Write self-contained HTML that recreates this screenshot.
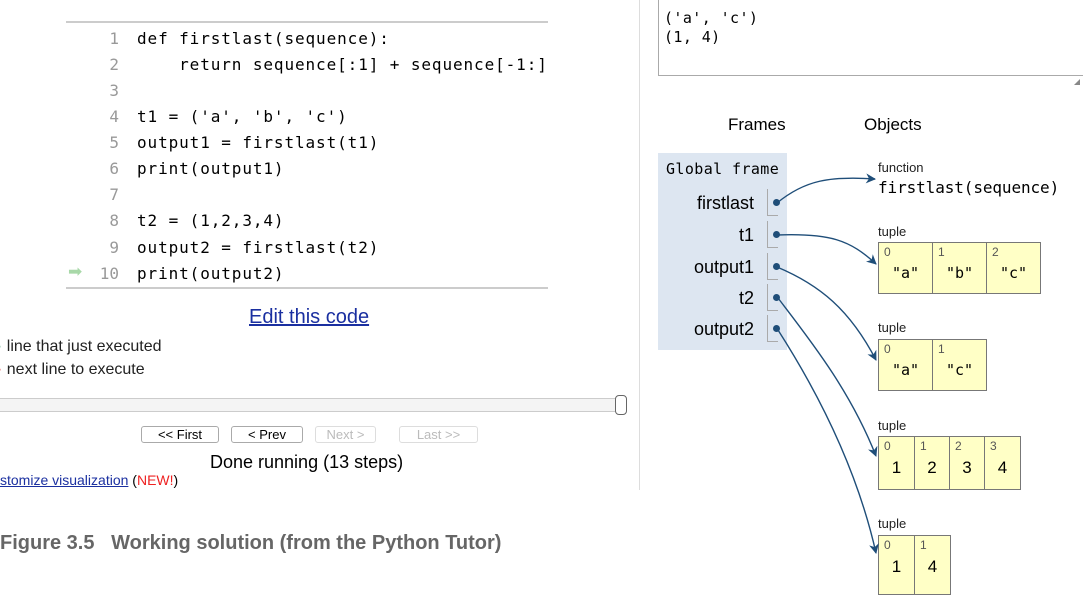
<!DOCTYPE html>
<html><head><meta charset="utf-8"><style>
*{margin:0;padding:0;box-sizing:border-box}
body{width:1083px;height:587px;background:#fff;position:relative;overflow:hidden;font-family:"Liberation Sans",sans-serif;color:#000}
.a{position:absolute;white-space:pre}
.m{font-family:"DejaVu Sans Mono","Liberation Mono",monospace}
.ln{position:absolute;width:40px;text-align:right;left:79px;color:#999;font-size:16px;font-family:"DejaVu Sans Mono",monospace}
.cd{position:absolute;left:137px;font-size:16px;letter-spacing:0.9px;font-family:"DejaVu Sans Mono",monospace;white-space:pre}
.btn{position:absolute;top:426px;height:17px;border:1px solid #aaa;border-radius:3px;font-size:13px;text-align:center;line-height:15px;background:#fff}
.var{position:absolute;right:329px;font-size:18px;text-align:right}
.br{position:absolute;left:767px;width:11px;height:27px;border-left:1px solid #aaa;border-bottom:1px solid #aaa}
.dot{position:absolute;width:7px;height:7px;border-radius:50%;background:#1f4e79;left:773px}
.tl{position:absolute;left:878px;font-size:13px;color:#222}
.tb{position:absolute;left:878px;background:#ffffc6;border:1px solid #777;display:flex}
.c{border-right:1px solid #777;position:relative}
.c:last-child{border-right:none}
.c i{position:absolute;left:5px;top:2px;font-style:normal;font-size:12px;color:#555}
.c b{position:absolute;left:0;right:0;text-align:center;font-weight:normal}
</style></head><body>
<div class="a" style="left:66px;top:21px;width:482px;height:2px;background:#ccc"></div>
<div class="a" style="left:66px;top:287px;width:482px;height:2px;background:#ccc"></div>
<div class="ln" style="top:29px">1</div><div class="cd" style="top:29px">def firstlast(sequence):</div>
<div class="ln" style="top:55px">2</div><div class="cd" style="top:55px">    return sequence[:1] + sequence[-1:]</div>
<div class="ln" style="top:81px">3</div>
<div class="ln" style="top:107px">4</div><div class="cd" style="top:107px">t1 = ('a', 'b', 'c')</div>
<div class="ln" style="top:133px">5</div><div class="cd" style="top:133px">output1 = firstlast(t1)</div>
<div class="ln" style="top:159px">6</div><div class="cd" style="top:159px">print(output1)</div>
<div class="ln" style="top:185px">7</div>
<div class="ln" style="top:211px">8</div><div class="cd" style="top:211px">t2 = (1,2,3,4)</div>
<div class="ln" style="top:238px">9</div><div class="cd" style="top:238px">output2 = firstlast(t2)</div>
<div class="ln" style="top:264px">10</div><div class="cd" style="top:264px">print(output2)</div>
<div class="a" style="left:68px;top:262px;color:#a8d8a8;font-size:17px">➡</div>

<div class="a" style="left:249px;top:306px;font-size:20px;color:#1a2fa0;text-decoration:underline">Edit this code</div>
<div class="a" style="left:-3px;top:338px;font-size:16px;color:#222"><span style="color:#7b9">·</span> line that just executed</div>
<div class="a" style="left:-3px;top:361px;font-size:16px;color:#222"><span style="color:#d44">·</span> next line to execute</div>
<div class="a" style="left:0;top:398px;width:622px;height:14px;border:1px solid #ccc;border-left:none;background:#f4f4f4"></div>
<div class="a" style="left:615px;top:395px;width:12px;height:20px;border:1px solid #666;border-radius:4px;background:#fff"></div>
<div class="btn" style="left:141px;width:78px">&lt;&lt; First</div>
<div class="btn" style="left:231px;width:72px">&lt; Prev</div>
<div class="btn" style="left:315px;width:61px;color:#bbb;border-color:#ddd">Next &gt;</div>
<div class="btn" style="left:399px;width:79px;color:#bbb;border-color:#ddd">Last &gt;&gt;</div>
<div class="a" style="left:210px;top:452px;font-size:18px">Done running (13 steps)</div>
<div class="a" style="left:0;top:472px;font-size:14px"><span style="color:#1a2fa0;text-decoration:underline">stomize visualization</span> (<span style="color:#e22">NEW!</span>)</div>
<div class="a" style="left:0;top:532px;font-size:20px;font-weight:bold;color:#666">Figure 3.5&nbsp;&nbsp;&nbsp;Working solution (from the Python Tutor)</div>
<div class="a" style="left:639px;top:0;width:1px;height:490px;background:#ddd"></div>

<div class="a" style="left:658px;top:-2px;width:440px;height:78px;border:1px solid #aaa"></div>
<div class="a m" style="left:664px;top:9px;font-size:15px;line-height:19px;letter-spacing:.4px">('a', 'c')
(1, 4)</div>
<div class="a" style="left:1074px;top:79px;width:0;height:0;border-left:6px solid transparent;border-bottom:6px solid #888"></div>
<div class="a" style="left:728px;top:115px;font-size:17px">Frames</div>
<div class="a" style="left:864px;top:115px;font-size:17px">Objects</div>

<div class="a" style="left:658px;top:153px;width:129px;height:197px;background:#dde6f1"></div>
<div class="a m" style="left:666px;top:160px;font-size:15px;letter-spacing:.4px">Global frame</div>
<div class="var" style="top:193px">firstlast</div>
<div class="var" style="top:225px">t1</div>
<div class="var" style="top:257px">output1</div>
<div class="var" style="top:288px">t2</div>
<div class="var" style="top:319px">output2</div>
<div class="br" style="top:189px"></div><div class="br" style="top:221px"></div><div class="br" style="top:253px"></div><div class="br" style="top:284px"></div><div class="br" style="top:315px"></div>
<div class="dot" style="top:199px"></div><div class="dot" style="top:231px"></div><div class="dot" style="top:263px"></div><div class="dot" style="top:294px"></div><div class="dot" style="top:325px"></div>

<div class="tl" style="top:160px">function</div>
<div class="a m" style="left:878px;top:178px;font-size:16px;letter-spacing:-.1px">firstlast(sequence)</div>

<div class="tl" style="top:224px">tuple</div>
<div class="tb" style="top:242px;height:52px">
<div class="c" style="width:54px"><i>0</i><b class="m" style="top:21px;font-size:15px">"a"</b></div>
<div class="c" style="width:54px"><i>1</i><b class="m" style="top:21px;font-size:15px">"b"</b></div>
<div class="c" style="width:53px"><i>2</i><b class="m" style="top:21px;font-size:15px">"c"</b></div></div>

<div class="tl" style="top:320px">tuple</div>
<div class="tb" style="top:339px;height:52px">
<div class="c" style="width:54px"><i>0</i><b class="m" style="top:21px;font-size:15px">"a"</b></div>
<div class="c" style="width:53px"><i>1</i><b class="m" style="top:21px;font-size:15px">"c"</b></div></div>

<div class="tl" style="top:418px">tuple</div>
<div class="tb" style="top:436px;height:54px">
<div class="c" style="width:36px"><i>0</i><b style="top:21px;font-size:17px">1</b></div>
<div class="c" style="width:35px"><i>1</i><b style="top:21px;font-size:17px">2</b></div>
<div class="c" style="width:35px"><i>2</i><b style="top:21px;font-size:17px">3</b></div>
<div class="c" style="width:35px"><i>3</i><b style="top:21px;font-size:17px">4</b></div></div>

<div class="tl" style="top:516px">tuple</div>
<div class="tb" style="top:535px;height:60px">
<div class="c" style="width:36px"><i>0</i><b style="top:21px;font-size:17px">1</b></div>
<div class="c" style="width:35px"><i>1</i><b style="top:21px;font-size:17px">4</b></div></div>

<svg class="a" style="left:0;top:0" width="1083" height="587">
<defs><marker id="ah" markerWidth="10" markerHeight="10" refX="9" refY="5" orient="auto" markerUnits="userSpaceOnUse"><path d="M0,0 L10,5 L0,10 L3,5 Z" fill="#1f4e79"/></marker></defs>
<g fill="none" stroke="#1f4e79" stroke-width="1.4" marker-end="url(#ah)">
<path d="M777,203 C805,180 830,176 875,179"/>
<path d="M777,235 C830,233 850,240 876,264"/>
<path d="M777,267 C820,285 850,310 876,360"/>
<path d="M778,298 C810,340 850,390 876,456"/>
<path d="M778,330 C810,380 855,460 876,553"/>
</g></svg>
</body></html>
